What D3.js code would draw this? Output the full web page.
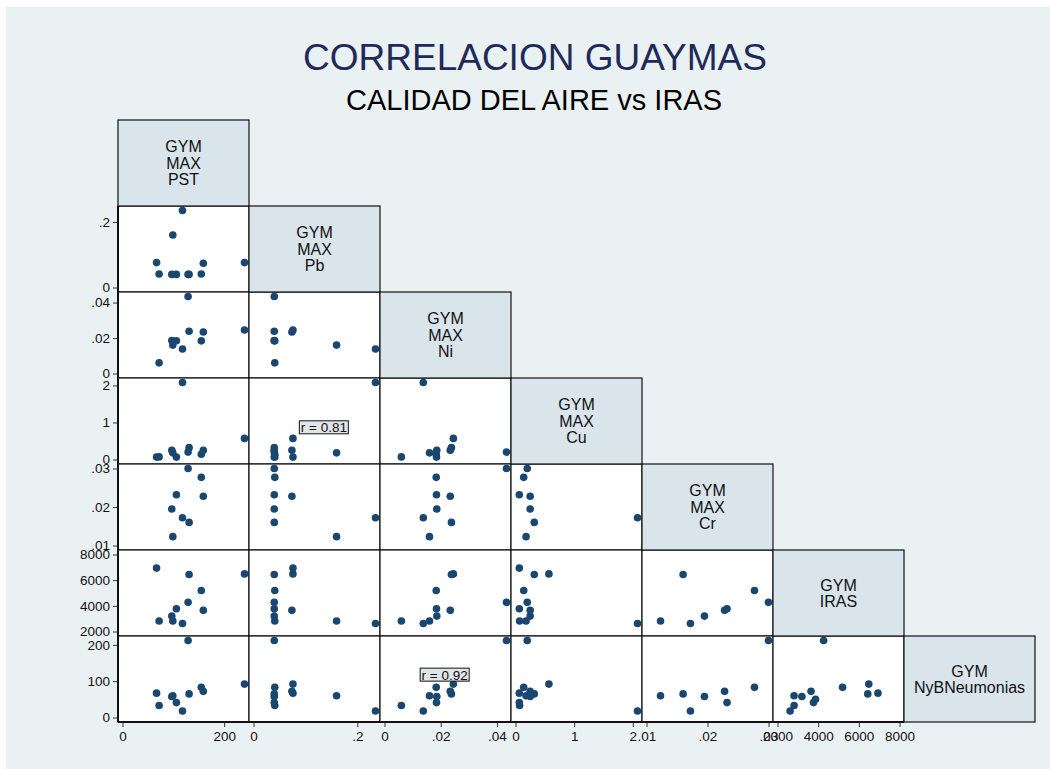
<!DOCTYPE html>
<html>
<head>
<meta charset="utf-8">
<script src="https://cdn.jsdelivr.net/npm/d3@7"></script>
<style>
  body { margin: 0; background: #fff; }
  text { font-family: "Liberation Sans", Arial, sans-serif; }
</style>
</head>
<body>
<div id="chart"></div>
<script>
// observaciones A..L (L solo tiene IRAS y NyB)
const pst   = [67, 72, 97, 99, 106, 118, 129, 131, 155, 159, 240, null];
const pb    = [0.076, 0.041, 0.040, 0.160, 0.040, 0.235, 0.040, 0.040, 0.041, 0.074, 0.076, null];
const ni    = [null, 0.006, 0.0186, 0.016, 0.0185, 0.0138, 0.0434, 0.0238, 0.0184, 0.0234, 0.0245, null];
const cu    = [0.065, 0.07, 0.25, 0.18, 0.065, 2.08, 0.2, 0.32, 0.14, 0.25, 0.57, null];
const cr    = [null, null, 0.0195, 0.0123, 0.0232, 0.0172, 0.030, 0.016, 0.0277, 0.0228, null, null];
const iras  = [6940, 2815, 3200, 2815, 3770, 2620, 4270, 6440, 5200, 3650, 6490, 3870];
const nyb   = [67, 33, 58, 60, 41, 18, 212, 65, 83, 72, 92, 50];

const varLabels = [
  ["GYM", "MAX", "PST"],
  ["GYM", "MAX", "Pb"],
  ["GYM", "MAX", "Ni"],
  ["GYM", "MAX", "Cu"],
  ["GYM", "MAX", "Cr"],
  ["GYM", "IRAS"],
  ["GYM", "NyBNeumonias"]
];
const varTicks = [
  [0, 200],
  [0, 0.2],
  [0, 0.02, 0.04],
  [0, 1, 2],
  [0.01, 0.02, 0.03],
  [2000, 4000, 6000, 8000],
  [0, 100, 200]
];
const varValues = [pst, pb, ni, cu, cr, iras, nyb];

// anotaciones de correlacion: [columna, fila, x, y, texto]
const notes = [
  [1, 3, 0.1355, 0.87, "r = 0.81"],
  [2, 6, 0.0214, 118, "r = 0.92"]
];

const W = 1050, H = 769;
const gridLeft = 118, gridTop = 120, cellW = 131, cellH = 86, pad = 4.5;
const n = varValues.length;
const navy = "#1a476f";

const svg = d3.select("#chart").append("svg")
  .attr("width", W).attr("height", H);

svg.append("rect")
  .attr("x", 6).attr("y", 7)
  .attr("width", W - 6).attr("height", H - 7)
  .attr("fill", "#eaf1f3");

svg.append("text")
  .attr("x", 535).attr("y", 70)
  .attr("text-anchor", "middle")
  .attr("font-size", 37)
  .attr("fill", "#1e2a5a")
  .text("CORRELACION GUAYMAS");

svg.append("text")
  .attr("x", 534).attr("y", 110)
  .attr("text-anchor", "middle")
  .attr("font-size", 29)
  .attr("fill", "#000")
  .text("CALIDAD DEL AIRE vs IRAS");

const fmt = d => d === 0 ? "0" : String(d).replace(/^0\./, ".");

// escalas por variable (dominio incluye los ticks, como Stata)
const xScales = varValues.map((vals, i) => {
  const ext = d3.extent(vals.filter(v => v !== null).concat(varTicks[i]));
  const x0 = gridLeft + i * cellW;
  return d3.scaleLinear().domain(ext).range([x0 + pad, x0 + cellW - pad]);
});
const yScales = varValues.map((vals, i) => {
  const ext = d3.extent(vals.filter(v => v !== null).concat(varTicks[i]));
  const y0 = gridTop + i * cellH;
  return d3.scaleLinear().domain(ext).range([y0 + cellH - pad, y0 + pad]);
});

// celdas de dispersion
for (let r = 1; r < n; r++) {
  for (let c = 0; c < r; c++) {
    const g = svg.append("g");
    g.append("rect")
      .attr("x", gridLeft + c * cellW).attr("y", gridTop + r * cellH)
      .attr("width", cellW).attr("height", cellH)
      .attr("fill", "#fff");

    const pts = varValues[c].map((v, k) => [v, varValues[r][k]])
      .filter(p => p[0] !== null && p[1] !== null);

    g.selectAll("circle")
      .data(pts)
      .join("circle")
      .attr("cx", d => xScales[c](d[0]))
      .attr("cy", d => yScales[r](d[1]))
      .attr("r", 3.8)
      .attr("fill", navy);

    g.append("rect")
      .attr("x", gridLeft + c * cellW).attr("y", gridTop + r * cellH)
      .attr("width", cellW).attr("height", cellH)
      .attr("fill", "none")
      .attr("stroke", "#111")
      .attr("stroke-width", 1.2);
  }
}

// cajas de la diagonal
for (let i = 0; i < n; i++) {
  const x0 = gridLeft + i * cellW, y0 = gridTop + i * cellH;
  svg.append("rect")
    .attr("x", x0).attr("y", y0)
    .attr("width", cellW).attr("height", cellH)
    .attr("fill", "#d9e5eb")
    .attr("stroke", "#111")
    .attr("stroke-width", 1.2);
  const lines = varLabels[i];
  const lh = 16.5;
  const startY = y0 + cellH / 2 - (lines.length - 1) * lh / 2;
  svg.append("text")
    .attr("text-anchor", "middle")
    .attr("font-size", 16)
    .attr("fill", "#111")
    .selectAll("tspan")
    .data(lines)
    .join("tspan")
    .attr("x", x0 + cellW / 2)
    .attr("y", (d, k) => startY + k * lh)
    .attr("dy", "0.36em")
    .text(d => d);
}

// ejes inferiores
for (let c = 0; c < n - 1; c++) {
  const ax = svg.append("g")
    .attr("transform", `translate(0,${gridTop + n * cellH})`)
    .call(d3.axisBottom(xScales[c]).tickValues(varTicks[c]).tickFormat(fmt)
      .tickSize(5).tickSizeOuter(0).tickPadding(4));
  ax.select(".domain").remove();
  ax.selectAll("text").attr("font-size", 13.5).attr("fill", "#111")
    .style("font-family", "'Liberation Sans', Arial, sans-serif");
  ax.selectAll("line").attr("stroke", "#333");
}

// ejes izquierdos
for (let r = 1; r < n; r++) {
  const ax = svg.append("g")
    .attr("transform", `translate(${gridLeft},0)`)
    .call(d3.axisLeft(yScales[r]).tickValues(varTicks[r]).tickFormat(fmt)
      .tickSize(5).tickSizeOuter(0).tickPadding(3));
  ax.select(".domain").remove();
  ax.selectAll("text").attr("font-size", 13.5).attr("fill", "#111")
    .style("font-family", "'Liberation Sans', Arial, sans-serif");
  ax.selectAll("line").attr("stroke", "#333");
}

// lineas de eje
svg.append("line")
  .attr("x1", gridLeft).attr("x2", gridLeft + (n - 1) * cellW)
  .attr("y1", gridTop + n * cellH).attr("y2", gridTop + n * cellH)
  .attr("stroke", "#111").attr("stroke-width", 2);
svg.append("line")
  .attr("x1", gridLeft).attr("x2", gridLeft)
  .attr("y1", gridTop + cellH).attr("y2", gridTop + n * cellH)
  .attr("stroke", "#111").attr("stroke-width", 2);

// notas r = ...
notes.forEach(([c, r, vx, vy, label]) => {
  const cx = xScales[c](vx), cy = yScales[r](vy);
  svg.append("rect")
    .attr("x", cx - 24.5).attr("y", cy - 6.5)
    .attr("width", 49).attr("height", 13)
    .attr("fill", "#dfe5e8")
    .attr("stroke", "#111").attr("stroke-width", 1);
  svg.append("text")
    .attr("x", cx).attr("y", cy)
    .attr("dy", "0.36em")
    .attr("text-anchor", "middle")
    .attr("font-size", 13.5)
    .attr("fill", "#111")
    .text(label);
});
</script>
</body>
</html>
